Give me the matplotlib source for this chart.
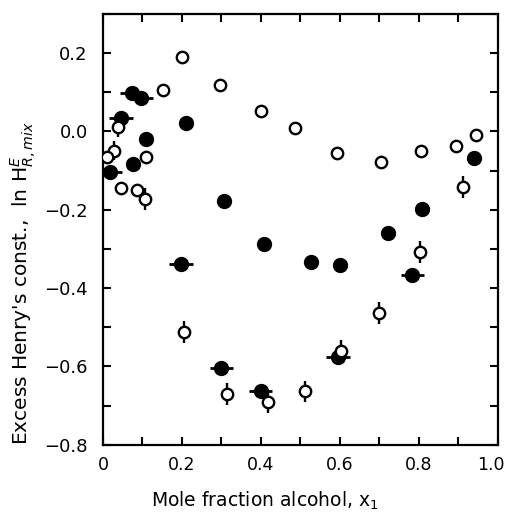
import matplotlib
matplotlib.use("Agg")
import matplotlib.pyplot as plt
from matplotlib.ticker import MultipleLocator
from matplotlib.transforms import ScaledTranslation

# Open circles (with optional vertical error bars)
open_x = [0.200, 0.153, 0.297, 0.400, 0.487, 0.594, 0.704, 0.806, 0.894, 0.945,
          0.912, 0.804, 0.700, 0.604, 0.511, 0.418, 0.314, 0.204,
          0.039, 0.028, 0.011, 0.045, 0.086, 0.107, 0.109]
open_y = [0.189, 0.105, 0.118, 0.052, 0.009, -0.055, -0.079, -0.050, -0.038, -0.008,
          -0.143, -0.307, -0.463, -0.561, -0.664, -0.692, -0.670, -0.513,
          0.011, -0.049, -0.066, -0.144, -0.149, -0.172, -0.066]
open_yerr = [0, 0, 0, 0, 0, 0, 0, 0, 0, 0,
             0.028, 0.028, 0.028, 0.028, 0.028, 0.028, 0.028, 0.028,
             0.025, 0.025, 0, 0, 0, 0.028, 0]

# Filled circles (with optional horizontal error bars)
filled_x = [0.073, 0.096, 0.045, 0.109, 0.210, 0.077, 0.018, 0.306, 0.407,
            0.198, 0.300, 0.399, 0.526, 0.600, 0.721, 0.784, 0.596, 0.941, 0.808]
filled_y = [0.098, 0.084, 0.034, -0.019, 0.021, -0.083, -0.104, -0.177, -0.288,
            -0.338, -0.603, -0.664, -0.333, -0.341, -0.260, -0.367, -0.577, -0.067, -0.198]
filled_xerr = [0.03, 0.03, 0.03, 0, 0, 0, 0.03, 0, 0,
               0.03, 0.03, 0.03, 0, 0, 0, 0.03, 0.03, 0, 0]

fig = plt.figure(figsize=(5.10, 5.13), dpi=100)
ax = fig.add_axes([0.202, 0.133, 0.774, 0.840])

ax.errorbar(filled_x, filled_y, xerr=filled_xerr, fmt='o', color='black',
            markersize=10, elinewidth=2, capsize=0, zorder=3)
ax.errorbar(open_x, open_y, yerr=open_yerr, fmt='o', color='black',
            markerfacecolor='white', markeredgecolor='black', markeredgewidth=1.7,
            markersize=8.2, elinewidth=1.7, capsize=0, zorder=4)

ax.set_xlim(0, 1.0)
ax.set_ylim(-0.8, 0.3)

xt = [0, 0.2, 0.4, 0.6, 0.8, 1.0]
xtl = ["0", "0.2", "0.4", "0.6", "0.8", "1.0"]
yt = [-0.8, -0.6, -0.4, -0.2, 0.0, 0.2]
ytl = ["\u22120.8", "\u22120.6", "\u22120.4", "\u22120.2", "0.0", "0.2"]
ax.set_xticks(xt)
ax.set_xticklabels(xtl)
ax.set_yticks(yt)
ax.set_yticklabels(ytl)
ax.xaxis.set_minor_locator(MultipleLocator(0.1))
ax.yaxis.set_minor_locator(MultipleLocator(0.1))

for which in ('major', 'minor'):
    ax.tick_params(axis='both', which=which, direction='in', length=6, width=1.5,
                   top=True, right=True)
ax.tick_params(axis='x', which='major', labelsize=12.5, pad=8)
ax.tick_params(axis='y', which='major', labelsize=13, pad=11)
for s in ax.spines.values():
    s.set_linewidth(1.6)

# nudge the last x tick label left so it stays inside the figure
last = ax.xaxis.get_major_ticks()[-1].label1
last.set_transform(last.get_transform() + ScaledTranslation(-5 / 72, 0, fig.dpi_scale_trans))

ax.set_xlabel("Mole fraction alcohol, x$_1$", fontsize=13.5)
ax.xaxis.set_label_coords(0.41, -0.105)
ax.set_ylabel("Excess Henry's const.,  ln H$^{E}_{R,mix}$", fontsize=14.5, va='center')
ax.yaxis.set_label_coords(-0.2, 0.376)

fig.savefig("out.png", dpi=100)
